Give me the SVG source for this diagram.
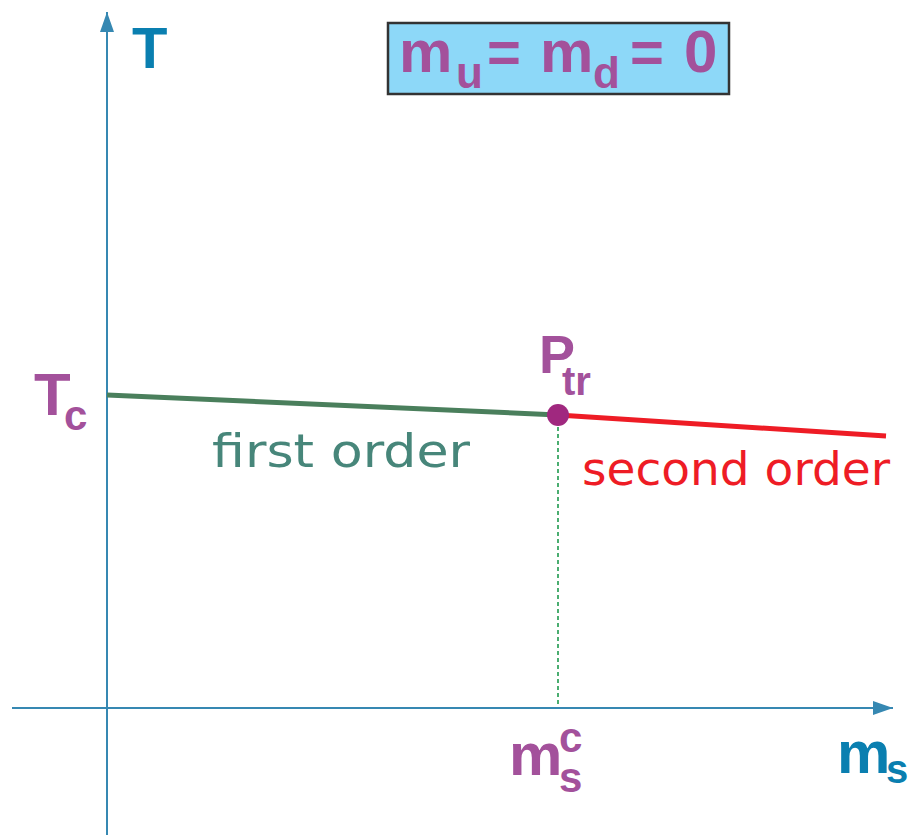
<svg xmlns="http://www.w3.org/2000/svg" width="913" height="835" viewBox="0 0 913 835">
<defs>
<style>
.ax{stroke:#3688b2;stroke-width:2;fill:none}
.lbl{font-family:"Liberation Sans",Arial,sans-serif;font-weight:bold}
.pu{fill:#a3519b}
.bl{fill:#0a7fb0}
.cm{font-family:"Comic Sans MS","DejaVu Sans",sans-serif}
</style>
<marker id="ah" viewBox="0 0 20 14" refX="20" refY="7" markerWidth="20" markerHeight="14" markerUnits="userSpaceOnUse" orient="auto">
<path d="M0,0 L20,7 L0,14 Z" fill="#3688b2"/>
</marker>
</defs>
<g id="connectors">
<line class="ax" x1="107" y1="835" x2="107" y2="12" marker-end="url(#ah)"/>
<line class="ax" x1="12" y1="708" x2="893" y2="708" marker-end="url(#ah)"/>
<line x1="107" y1="395" x2="558" y2="415" stroke="#4a7f5c" stroke-width="5"/>
<line x1="558" y1="415" x2="886" y2="436" stroke="#ee1c25" stroke-width="5"/>
<line x1="558" y1="420" x2="558" y2="707" stroke="#1e9a4e" stroke-width="1.6" stroke-dasharray="4,3"/>
</g>
<g id="title">
<rect x="388" y="23" width="341" height="71" fill="#8dd8f8" stroke="#333" stroke-width="2.5"/>
<text class="lbl pu" x="399" y="72" font-size="60">m</text>
<text class="lbl pu" x="456" y="88" font-size="44">u</text>
<text class="lbl pu" x="487" y="72" font-size="58">=</text>
<text class="lbl pu" x="540" y="72" font-size="60">m</text>
<text class="lbl pu" x="593" y="88" font-size="44">d</text>
<text class="lbl pu" x="630" y="72" font-size="58">=</text>
<text class="lbl pu" x="684" y="72" font-size="60">0</text>
</g>
<g id="T-label"><text class="lbl bl" x="132" y="68" font-size="58">T</text></g>
<g id="Tc-label">
<text class="lbl pu" x="34" y="415" font-size="60">T</text>
<text class="lbl pu" x="64" y="430" font-size="42">c</text>
</g>
<g id="Ptr">
<circle cx="558" cy="415" r="11" fill="#a0287f"/>
<text class="lbl pu" x="539" y="373" font-size="54">P</text>
<text class="lbl pu" x="562" y="395" font-size="40">tr</text>
</g>
<g id="msc-label">
<text class="lbl pu" x="509" y="775" font-size="60">m</text>
<text class="lbl pu" x="559" y="752" font-size="42">c</text>
<text class="lbl pu" x="559" y="792" font-size="42">s</text>
</g>
<g id="ms-label">
<text class="lbl bl" x="837" y="773" font-size="60">m</text>
<text class="lbl bl" x="886" y="783" font-size="40">s</text>
</g>
<g id="first-order"><text class="cm" x="212" y="467" font-size="46" fill="#47867a" textLength="258" lengthAdjust="spacingAndGlyphs">first order</text></g>
<g id="second-order"><text class="cm" x="582" y="485" font-size="46" fill="#ee1c25" textLength="308" lengthAdjust="spacingAndGlyphs">second order</text></g>
</svg>
